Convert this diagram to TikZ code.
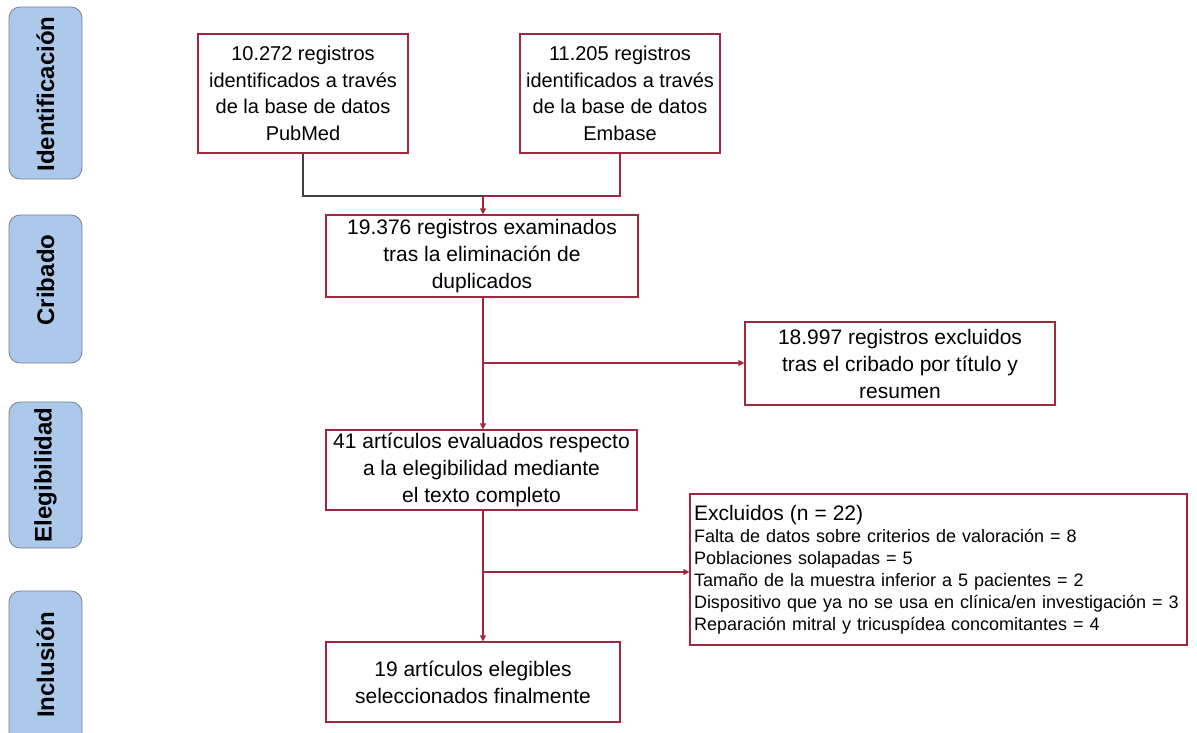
\documentclass[tikz,border=0pt]{standalone}
\usepackage{fontspec}
\setmainfont{Liberation Sans}
\usepackage{tikz}
\usetikzlibrary{arrows.meta}
\usetikzlibrary{calc}
\definecolor{boxred}{RGB}{160,40,62}
\definecolor{stagefill}{RGB}{172,201,235}
\definecolor{stageline}{RGB}{120,128,140}
\tikzstyle{box} = [draw=boxred,line width=1.2pt,align=center,inner sep=0pt,font=\fontsize{21}{27}\selectfont]
\tikzstyle{stage} = [draw=stageline,fill=stagefill,line width=0.8pt,rounded corners=11pt]
\tikzstyle{stagetxt} = [rotate=90,font=\fontsize{24}{28}\selectfont\bfseries]
\tikzstyle{link} = [draw=boxred,line width=1.2pt]
\tikzstyle{arr} = [link,-{Triangle[length=6pt,width=6pt]}]

\begin{document}
\begin{tikzpicture}[x=1pt,y=-1pt]
\useasboundingbox (0,0) rectangle (1197,732);
\clip (0,0) rectangle (1197,732);

% stages on the left
\draw[stage] (9,7) rectangle (82,179);
\draw(45.5,94) node[stagetxt] (sI) {Identificación};
\draw[stage] (9,215) rectangle (82,363);
\draw(45.5,280) node[stagetxt] (sC) {Cribado};
\draw[stage] (9,402) rectangle (82,548);
\draw(45.5,475) node[stagetxt] (sE) {Elegibilidad};
\draw[stage] (9,591) rectangle (82,745);
\draw(45.5,665) node[stagetxt] (sInc) {Inclusión};

% boxes
\draw(303,93.5) node[box,minimum width=210pt,minimum height=119pt,font=\fontsize{20}{26.5}\selectfont] (pubmed) {10.272 registros\\identificados a través\\de la base de datos\\PubMed};
\draw(620,93.5) node[box,minimum width=200pt,minimum height=119pt,font=\fontsize{20}{26.5}\selectfont] (embase) {11.205 registros\\identificados a través\\de la base de datos\\Embase};
\draw(482,256) node[box,minimum width=312pt,minimum height=82pt] (dup) {19.376 registros examinados\\tras la eliminación de\\duplicados};
\draw(900,363.5) node[box,minimum width=310pt,minimum height=83pt] (excA) {18.997 registros excluidos\\tras el cribado por título y\\resumen};
\draw(481.5,470) node[box,minimum width=311pt,minimum height=80pt] (full) {41 artículos evaluados respecto\\a la elegibilidad mediante\\el texto completo};
\draw(938.5,569.5) node[box,minimum width=497pt,minimum height=151pt,align=left,text width=489pt,inner xsep=4pt,font=\fontsize{18}{22}\selectfont] (excB) {{\fontsize{21}{22}\selectfont Excluidos (n = 22)}\\Falta de datos sobre criterios de valoración = 8\\Poblaciones solapadas = 5\\Tamaño de la muestra inferior a 5 pacientes = 2\\Dispositivo que ya no se usa en clínica/en investigación = 3\\Reparación mitral y tricuspídea concomitantes = 4};
\draw(473,682) node[box,minimum width=294pt,minimum height=80pt] (final) {19 artículos elegibles\\seleccionados finalmente};

% connectors
\coordinate (merge) at (483,196);
\coordinate (forkA) at (483,363);
\coordinate (forkB) at (483,572);
\draw[line width=1.2pt,draw=black!75] (pubmed.south) -- (pubmed.south |- merge) -- (merge);
\draw[link] (embase.south) -- (embase.south |- merge) -- (merge);
\draw[arr] (merge) -- (merge |- dup.north);
\draw[arr] (dup.south -| forkA) -- (forkA |- full.north);
\draw[arr] (forkA) -- (forkA -| excA.west);
\draw[arr] (full.south -| forkB) -- (forkB |- final.north);
\draw[arr] (forkB) -- (forkB -| excB.west);

\end{tikzpicture}
\end{document}
